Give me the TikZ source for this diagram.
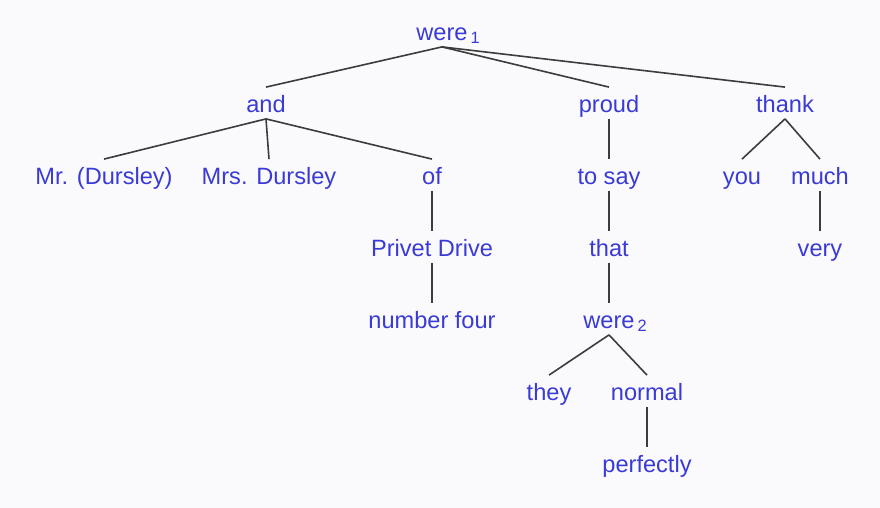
\documentclass[tikz,border=0pt]{standalone}
\usepackage{fontspec}
\setmainfont{Liberation Sans}
\usetikzlibrary{positioning}
\definecolor{wordblue}{RGB}{58,58,214}
\definecolor{linegray}{RGB}{60,60,60}
\definecolor{paper}{RGB}{250,250,252}
\newcommand{\wsub}[1]{\rlap{\hspace{1.5pt}\raisebox{-1.6pt}{\fontsize{8.2}{10}\selectfont #1}}}
\tikzset{
word/.style={text=wordblue, inner sep=0pt, text height=12.35pt, text depth=3.15pt, font=\fontsize{11.8}{14}\selectfont}, % every word of the tree
node distance=36pt, % one level of the tree
every edge/.style={draw=linegray, line width=0.8pt}, % the branches
}

\begin{document}
\begin{tikzpicture}
        \fill[paper] (0,0) rectangle (440pt,-254pt);

        \node[word] (were1) at (221pt,-15.5pt) {were\wsub{1}};
        \node[word, below of=were1, xshift=-88pt] (and) {and};
        \node[word, below of=were1, xshift=83.5pt] (proud) {proud};
        \node[word, below of=were1, xshift=171.5pt] (thank) {thank};
        \node[word, below of=and, xshift=-81pt] (mr) {Mr. (Dursley)};
        \node[word, below of=and, xshift=1.5pt] (mrs) {Mrs. Dursley};
        \node[word, below of=and, xshift=83pt] (of) {of};
        \node[word, below of=of] (privet) {Privet Drive};
        \node[word, below of=privet] (number) {number four};
        \node[word, below of=proud] (tosay) {to say};
        \node[word, below of=tosay] (that) {that};
        \node[word, below of=that] (were2) {were\wsub{2}};
        \node[word, below of=were2, xshift=-30pt] (they) {they};
        \node[word, below of=were2, xshift=19pt] (normal) {normal};
        \node[word, below of=normal] (perfectly) {perfectly};
        \node[word, below of=thank, xshift=-21.5pt] (you) {you};
        \node[word, below of=thank, xshift=17.5pt] (much) {much};
        \node[word, below of=much] (very) {very};


        \draw (were1.south) edge (and.north)
        (were1.south) edge (proud.north)
        (were1.south) edge (thank.north)
        (and.south) edge (mr.north)
        (and.south) edge (mrs.north)
        (and.south) edge (of.north)
        (of.south) edge (privet.north)
        (privet.south) edge (number.north)
        (proud.south) edge (tosay.north)
        (tosay.south) edge (that.north)
        (that.south) edge (were2.north)
        (were2.south) edge (they.north)
        (were2.south) edge (normal.north)
        (normal.south) edge (perfectly.north)
        (thank.south) edge (you.north)
        (thank.south) edge (much.north)
        (much.south) edge (very.north);
      \end{tikzpicture}
\end{document}
